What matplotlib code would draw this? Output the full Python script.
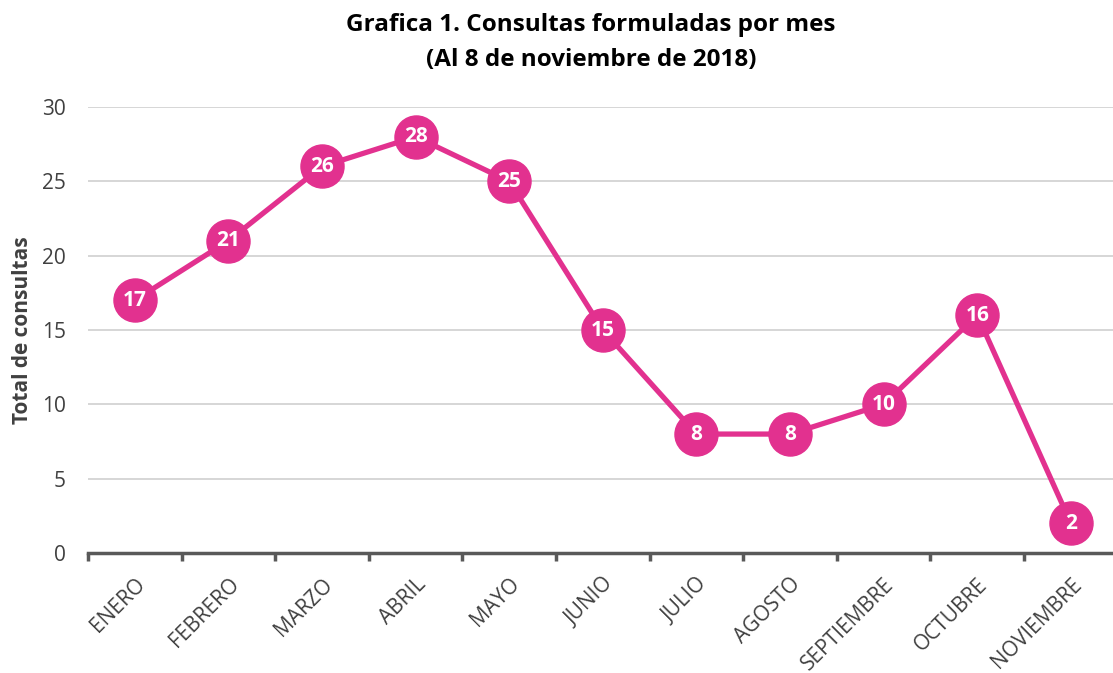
import matplotlib.pyplot as plt

meses = ["ENERO", "FEBRERO", "MARZO", "ABRIL", "MAYO", "JUNIO", "JULIO",
         "AGOSTO", "SEPTIEMBRE", "OCTUBRE", "NOVIEMBRE"]
consultas = [17, 21, 26, 28, 25, 15, 8, 8, 10, 16, 2]

plt.rcParams['font.family'] = ['Open Sans', 'DejaVu Sans']
rosa = '#E2318F'

fig = plt.figure(figsize=(11.13, 6.73), dpi=100)
ax = fig.add_axes([88 / 1113, 120 / 673, 1025 / 1113, 446 / 673])

x = list(range(len(meses)))
ax.plot(x, consultas, color=rosa, lw=3.8, marker='o', markersize=31,
        markerfacecolor=rosa, markeredgecolor=rosa, clip_on=False, zorder=3)
for xi, v in zip(x, consultas):
    ax.text(xi, v, str(v), color='white', fontsize=15, fontweight='bold',
            ha='center', va='center', zorder=4)

ax.set_xlim(-0.5, 10.45)
ax.set_ylim(0, 30)
ax.set_yticks(range(0, 31, 5))
ax.yaxis.grid(True, color='#d0d0d0', lw=1.2)
ax.set_axisbelow(True)
ax.tick_params(axis='y', length=0, labelsize=15, labelcolor='#404040', pad=16)

ax.set_xticks([i - 0.5 for i in x])
ax.set_xticklabels([])
ax.set_xticks(x, minor=True)
ax.set_xticklabels(meses, minor=True, rotation=45, ha='right',
                   rotation_mode='anchor', fontsize=15, color='#404040')
ax.tick_params(axis='x', which='major', length=6, width=2.5, color='#595959')
ax.tick_params(axis='x', which='minor', length=0, pad=15)

for s in ['top', 'right', 'left']:
    ax.spines[s].set_visible(False)
ax.spines['bottom'].set_color('#595959')
ax.spines['bottom'].set_linewidth(2.5)

ax.set_ylabel("Total de consultas", fontsize=15, fontweight='bold',
              color='#404040', labelpad=6)

fig.text(591 / 1113, 1 - 25 / 673, "Grafica 1. Consultas formuladas por mes",
         ha='center', va='center', fontsize=17.5, fontweight='bold')
fig.text(591 / 1113, 1 - 60 / 673, "(Al 8 de noviembre de 2018)",
         ha='center', va='center', fontsize=17.5, fontweight='bold')

fig.savefig('out.png', dpi=100)
